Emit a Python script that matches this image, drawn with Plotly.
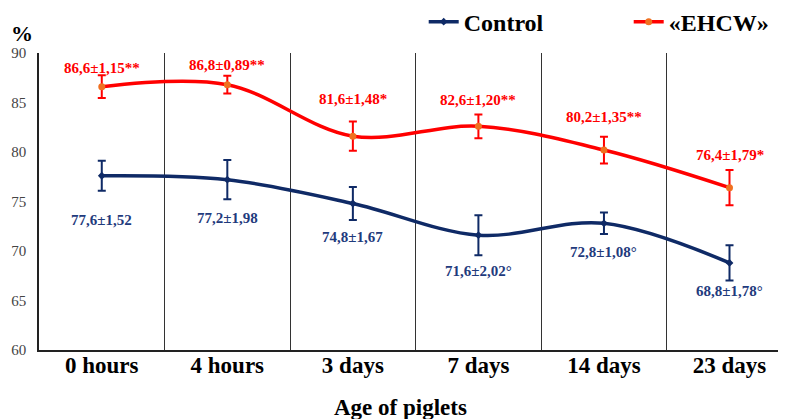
import plotly.graph_objects as go

categories = ["0 hours", "4 hours", "3 days", "7 days", "14 days", "23 days"]
control_vals = [77.6, 77.2, 74.8, 71.6, 72.8, 68.8]
control_err = [1.52, 1.98, 1.67, 2.02, 1.08, 1.78]
control_labels = ["77,6±1,52", "77,2±1,98", "74,8±1,67", "71,6±2,02°", "72,8±1,08°", "68,8±1,78°"]
ehcw_vals = [86.6, 86.8, 81.6, 82.6, 80.2, 76.4]
ehcw_err = [1.15, 0.89, 1.48, 1.20, 1.35, 1.79]
ehcw_labels = ["86,6±1,15**", "86,8±0,89**", "81,6±1,48*", "82,6±1,20**", "80,2±1,35**", "76,4±1,79*"]

control_label_shift = [-44, -38, -34, -36, -29, -28]
ehcw_label_shift = [19, 20, 37, 26, 33, 33]

NAVY = "#0f2a66"
NAVY_TXT = "#1f3b7d"
RED = "#ff0000"
SERIF = "Liberation Serif, Times New Roman, serif"

fig = go.Figure()
fig.add_trace(go.Scatter(
    x=categories, y=control_vals, name="Control", mode="lines+markers",
    line=dict(color=NAVY, width=3.5, shape="spline"),
    marker=dict(symbol="diamond", size=6, color=NAVY),
    error_y=dict(type="data", array=control_err, color=NAVY, thickness=2, width=4),
))
fig.add_trace(go.Scatter(
    x=categories, y=ehcw_vals, name="«EHCW»", mode="lines+markers",
    line=dict(color=RED, width=3.5, shape="spline"),
    marker=dict(symbol="circle", size=7, color="#f07020"),
    error_y=dict(type="data", array=ehcw_err, color=RED, thickness=2, width=4),
))

for c, v, t, s in zip(categories, control_vals, control_labels, control_label_shift):
    fig.add_annotation(x=c, y=v, text=t, showarrow=False, yshift=s,
                       font=dict(family=SERIF, size=15, color=NAVY_TXT, weight="bold"))
for c, v, t, s in zip(categories, ehcw_vals, ehcw_labels, ehcw_label_shift):
    fig.add_annotation(x=c, y=v, text=t, showarrow=False, yshift=s,
                       font=dict(family=SERIF, size=15, color=RED, weight="bold"))

fig.add_annotation(xref="paper", yref="paper", x=-0.0228, y=1.067, xanchor="center", yanchor="middle",
                   text="<b>%</b>", showarrow=False, font=dict(family=SERIF, size=22, color="black"))
fig.add_annotation(xref="paper", yref="paper", x=0.484, y=-0.195, xanchor="center", yanchor="middle",
                   text="<b>Age of piglets</b>", showarrow=False, font=dict(family=SERIF, size=23, color="black"))

fig.update_layout(
    width=786, height=419,
    margin=dict(l=31, r=8, t=45, b=77, autoexpand=False),
    paper_bgcolor="white", plot_bgcolor="white",
    showlegend=True,
    legend=dict(orientation="h", x=0.515, y=1.104, xanchor="left", yanchor="middle",
                font=dict(family=SERIF, size=24, color="black", weight="bold"),
                entrywidth=160, bgcolor="rgba(0,0,0,0)"),
    xaxis=dict(type="category", range=[-0.5, 5.45], tickson="boundaries", automargin=False,
               showgrid=True, gridcolor="#333333", gridwidth=1,
               showline=True, linecolor="#222222", linewidth=1.5,
               ticks="", ticklabelstandoff=-6,
               tickfont=dict(family=SERIF, size=23, color="black", weight="bold")),
    yaxis=dict(range=[60, 90], dtick=5, showgrid=False, zeroline=False, automargin=False,
               showline=True, linecolor="#222222", linewidth=1.5, ticks="", ticklabelstandoff=8,
               tickfont=dict(family=SERIF, size=15, color="#444444")),
)

fig.write_html("out.html")
